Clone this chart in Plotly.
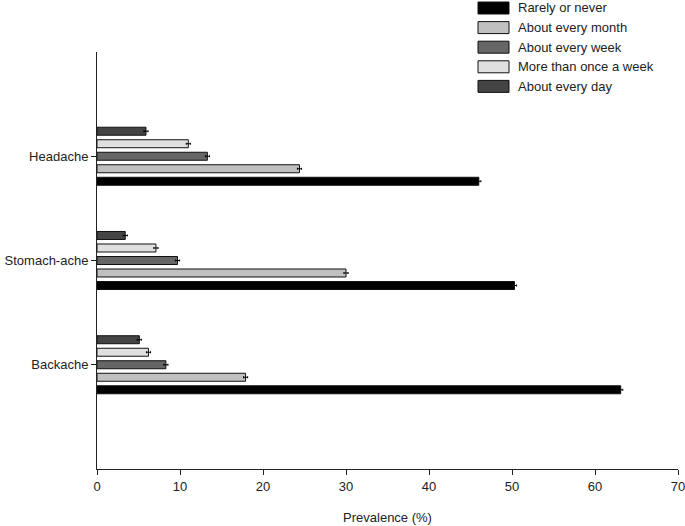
import plotly.graph_objects as go

categories = ["Headache", "Stomach-ache", "Backache"]
series_names = ["Rarely or never", "About every month", "About every week",
                "More than once a week", "About every day"]
rarely = [46.0, 50.3, 63.1]
month = [24.4, 30.0, 17.9]
week = [13.3, 9.7, 8.3]
more_once = [11.0, 7.1, 6.2]
daily = [5.9, 3.4, 5.1]
errors = [0.25, 0.25, 0.25]
x_ticks = [0, 10, 20, 30, 40, 50, 60, 70]

values = [rarely, month, week, more_once, daily]
colors = ["#000000", "#c0c0c0", "#666666", "#e0e0e0", "#444444"]

W, H = 685, 526
L, R, T, B = 97, 7, 52, 57
pw, ph = W - L - R, H - T - B

def px2paper(x, y):
    return (x - L) / pw, (H - B - y) / ph

fig = go.Figure()
for name, vals, col in zip(series_names, values, colors):
    fig.add_trace(go.Bar(
        y=categories, x=vals, name=name, orientation="h",
        marker=dict(color=col, line=dict(color="#111111", width=1)),
        error_x=dict(type="data", array=errors, color="#000000", thickness=1, width=1),
        showlegend=False,
    ))

# manual legend (wide swatches like the reference)
shapes = []
annotations = []
for i, (name, col) in enumerate(zip(series_names, colors)):
    cy = 8 + i * 19.6
    x0, y0 = px2paper(478, cy - 6)
    x1, y1 = px2paper(509, cy + 6)
    shapes.append(dict(type="rect", xref="paper", yref="paper",
                       x0=x0, x1=x1, y0=y1, y1=y0,
                       fillcolor=col, line=dict(color="#111111", width=1)))
    ax, ay = px2paper(516, cy)
    annotations.append(dict(xref="paper", yref="paper", x=ax, y=ay,
                            text=name, showarrow=False, xanchor="left",
                            yanchor="middle",
                            font=dict(size=13, color="#222222")))

fig.update_layout(
    width=W, height=H,
    margin=dict(l=L, r=R, t=T, b=B, pad=0, autoexpand=False),
    paper_bgcolor="white", plot_bgcolor="white",
    barmode="group", bargap=0.4, bargroupgap=0.36,
    font=dict(family="Liberation Sans, Arial, sans-serif", size=13, color="#222222"),
    shapes=shapes, annotations=annotations,
    xaxis=dict(range=[0, 70], tickvals=x_ticks, showline=True, linecolor="#222222",
               linewidth=1, ticks="outside", ticklen=5, tickcolor="#222222",
               showgrid=False, zeroline=False, automargin=False,
               ticklabeloverflow="allow",
               title=dict(text="Prevalence (%)", standoff=20, font=dict(size=13))),
    yaxis=dict(type="category", categoryorder="array",
               categoryarray=categories[::-1], range=[-1, 3],
               showline=True, linecolor="#222222", linewidth=1,
               ticks="outside", ticklen=5, tickcolor="#222222",
               showgrid=False, zeroline=False, automargin=False),
)

fig.write_html("out.html", config={"displayModeBar": False},
               post_script="document.body.style.margin='0';document.body.style.overflow='hidden';")
